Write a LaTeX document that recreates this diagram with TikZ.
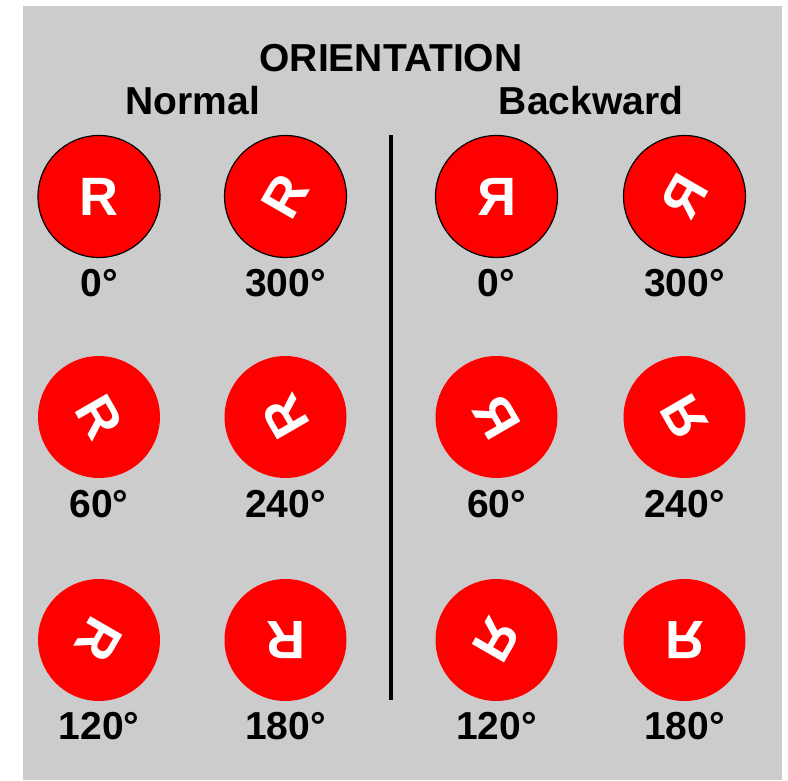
\documentclass[tikz,border=0pt]{standalone}
\usepackage{fontspec}
\setmainfont{Liberation Sans}
\definecolor{panelgray}{RGB}{204,204,204}
\definecolor{discred}{RGB}{255,0,0}
\begin{document}
\begin{tikzpicture}[x=1pt,y=1pt,
  disc/.style={circle,fill=discred,minimum size=122pt,inner sep=0pt,text=white,font=\fontsize{54}{60}\selectfont\bfseries},
  edged/.style={draw=black,line width=1.2pt},
  lbl/.style={anchor=base,inner sep=0pt,font=\fontsize{39}{46}\selectfont\bfseries}]
\useasboundingbox (0,0) rectangle (788,780);
\fill[panelgray] (23,0) rectangle (782,774);
% headings
\node[lbl] (title) at (391,708) {ORIENTATION};
\node[lbl] (normal) at (193,665) {Normal};
\node[lbl] (backward) at (591,665) {Backward};
\draw[line width=3.5pt] (391,645) -- (391,80);
% normal R
\node[disc,edged] (n0) at (99,583.5) {R};
\node[disc,edged,rotate=60] (n300) at (285.5,583.5) {R};
\node[disc,rotate=-60] (n60) at (99,363) {R};
\node[disc,rotate=120] (n240) at (285.5,363) {R};
\node[disc,rotate=-120] (n120) at (99,140) {R};
\node[disc,rotate=180] (n180) at (285.5,140) {R};
\node[lbl] at (99,483) {0°};
\node[lbl] at (285.5,483) {300°};
\node[lbl] at (99,262) {60°};
\node[lbl] at (285.5,262) {240°};
\node[lbl] at (99,40) {120°};
\node[lbl] at (285.5,40) {180°};
% backward R
\node[disc,edged] (b0) at (496.5,583.5) {\reflectbox{R}};
\node[disc,edged,rotate=60] (b300) at (684.5,583.5) {\reflectbox{R}};
\node[disc,rotate=-60] (b60) at (496.5,363) {\reflectbox{R}};
\node[disc,rotate=120] (b240) at (684.5,363) {\reflectbox{R}};
\node[disc,rotate=-120] (b120) at (496.5,140) {\reflectbox{R}};
\node[disc,rotate=180] (b180) at (684.5,140) {\reflectbox{R}};
\node[lbl] at (496.5,483) {0°};
\node[lbl] at (684.5,483) {300°};
\node[lbl] at (496.5,262) {60°};
\node[lbl] at (684.5,262) {240°};
\node[lbl] at (496.5,40) {120°};
\node[lbl] at (684.5,40) {180°};
\end{tikzpicture}
\end{document}
